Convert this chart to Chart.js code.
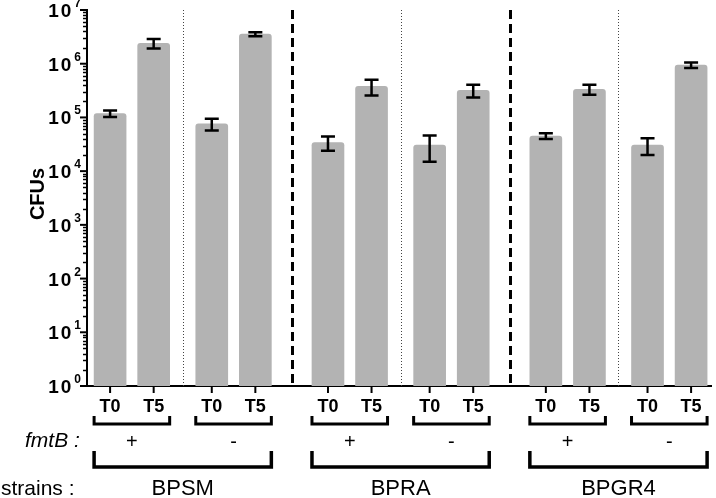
<!DOCTYPE html>
<html>
<head>
<meta charset="utf-8">
<script src="https://cdn.jsdelivr.net/npm/chart.js@4.4.0/dist/chart.umd.min.js"></script>
<style>
  html, body { margin: 0; padding: 0; background: #fff; }
  #wrap { width: 716px; height: 498px; }
</style>
</head>
<body>
<div id="wrap"><canvas id="c"></canvas></div>
<script>
// groups, outer to inner: strain > fmtB > time
const strains = ['BPSM', 'BPRA', 'BPGR4'];
const fmtB = ['+', '-'];
const times = ['T0', 'T5'];

// CFUs (mean and SD), in the same order as the bars
const cfuMean = [1.18e5, 2.4e6, 7.6e4, 3.55e6, 3.4e4, 3.8e5, 3.05e4, 3.2e5, 4.5e4, 3.35e5, 3.05e4, 9.4e5];
const cfuSd   = [0.16e5, 0.47e6, 1.9e4, 0.3e6, 1.0e4, 1.25e5, 1.55e4, 0.85e5, 0.55e4, 0.7e5, 1.05e4, 1.1e5];

// y axis decades: 10^0 .. 10^7
const yExponents = [0, 1, 2, 3, 4, 5, 6, 7];

const FONT = "'Liberation Sans', Arial, sans-serif";
const BAR_W = 32;

// bar positions on the x axis: pairs within a strain, wider gap between strains
const xPos = [];
strains.forEach((s, si) => fmtB.forEach((f, fi) => times.forEach((t, ti) => {
    xPos.push(si * 5 + fi * (7 / 3) + ti);
})));

const decor = {
    id: 'decor',
    beforeDatasetsDraw(chart) {
        const ctx = chart.ctx;
        const x = chart.scales.x, area = chart.chartArea;
        ctx.save();
        ctx.strokeStyle = '#000';
        // dashed lines between strains
        ctx.lineWidth = 3;
        ctx.setLineDash([9, 5]);
        for (let si = 1; si < strains.length; si++) {
            const px = Math.round(x.getPixelForValue(si * 5 - 5 / 6)) + 0.5;
            ctx.beginPath(); ctx.moveTo(px, area.top); ctx.lineTo(px, area.bottom); ctx.stroke();
        }
        // dotted lines between fmtB + / -
        ctx.lineWidth = 1;
        ctx.strokeStyle = '#444';
        ctx.setLineDash([1, 2]);
        for (let si = 0; si < strains.length; si++) {
            const px = Math.round(x.getPixelForValue(si * 5 + 5 / 3)) + 0.5;
            ctx.beginPath(); ctx.moveTo(px, area.top); ctx.lineTo(px, area.bottom); ctx.stroke();
        }
        ctx.restore();
    },
    afterDatasetsDraw(chart) {
        const ctx = chart.ctx;
        const x = chart.scales.x, y = chart.scales.y;
        ctx.save();
        ctx.strokeStyle = '#000';
        ctx.lineWidth = 2.5;
        cfuMean.forEach((m, i) => {
            const px = x.getPixelForValue(xPos[i]);
            const hi = y.getPixelForValue(m + cfuSd[i]);
            const lo = y.getPixelForValue(m - cfuSd[i]);
            ctx.beginPath();
            ctx.moveTo(px, hi); ctx.lineTo(px, lo);
            ctx.moveTo(px - 7, hi); ctx.lineTo(px + 7, hi);
            ctx.moveTo(px - 7, lo); ctx.lineTo(px + 7, lo);
            ctx.stroke();
        });
        ctx.restore();
    },
    afterDraw(chart) {
        const ctx = chart.ctx;
        const x = chart.scales.x, y = chart.scales.y, area = chart.chartArea;
        ctx.save();
        ctx.strokeStyle = '#000';
        ctx.fillStyle = '#000';

        // y ticks (major + minor) and 10^n labels
        yExponents.forEach(e => {
            const py = y.getPixelForValue(Math.pow(10, e));
            ctx.lineWidth = 2;
            ctx.beginPath(); ctx.moveTo(area.left - 7, py); ctx.lineTo(area.left, py); ctx.stroke();
            if (e < yExponents[yExponents.length - 1]) {
                ctx.lineWidth = 1.5;
                for (let k = 2; k <= 9; k++) {
                    const my = Math.round(y.getPixelForValue(k * Math.pow(10, e))) + 0.5;
                    ctx.beginPath(); ctx.moveTo(area.left - 4, my); ctx.lineTo(area.left, my); ctx.stroke();
                }
            }
            ctx.font = 'bold 12px ' + FONT;
            const expW = ctx.measureText(String(e)).width;
            ctx.textAlign = 'right';
            ctx.textBaseline = 'alphabetic';
            ctx.fillText(String(e), 81, py - 3);
            ctx.font = 'bold 19px ' + FONT;
            ctx.letterSpacing = '2px';
            ctx.fillText('10', 81 - expW - 1, py + 7);
            ctx.letterSpacing = '0px';
        });

        // y title
        ctx.save();
        ctx.translate(38, 194);
        ctx.rotate(-Math.PI / 2);
        ctx.font = 'bold 20px ' + FONT;
        ctx.textAlign = 'center';
        ctx.textBaseline = 'middle';
        ctx.fillText('CFUs', 0, 0);
        ctx.restore();

        // x ticks and time labels
        ctx.lineWidth = 2;
        ctx.textAlign = 'center';
        ctx.textBaseline = 'middle';
        ctx.font = 'bold 18px ' + FONT;
        xPos.forEach((v, i) => {
            const px = x.getPixelForValue(v);
            ctx.beginPath(); ctx.moveTo(px, area.bottom); ctx.lineTo(px, area.bottom + 7); ctx.stroke();
            ctx.fillText(times[i % times.length], px, 407);
        });

        // fmtB brackets
        ctx.lineWidth = 3;
        ctx.font = '20px ' + FONT;
        for (let g = 0; g < strains.length * fmtB.length; g++) {
            const a = x.getPixelForValue(xPos[g * 2]) - BAR_W / 2;
            const b = x.getPixelForValue(xPos[g * 2 + 1]) + BAR_W / 2;
            ctx.beginPath();
            ctx.moveTo(a, 416); ctx.lineTo(a, 424); ctx.lineTo(b, 424); ctx.lineTo(b, 416);
            ctx.stroke();
            ctx.fillText(fmtB[g % fmtB.length], (a + b) / 2, 442);
        }

        // strain brackets
        ctx.lineWidth = 3.5;
        ctx.font = '22px ' + FONT;
        strains.forEach((s, si) => {
            const a = x.getPixelForValue(xPos[si * 4]) - BAR_W / 2;
            const b = x.getPixelForValue(xPos[si * 4 + 3]) + BAR_W / 2;
            ctx.beginPath();
            ctx.moveTo(a, 451); ctx.lineTo(a, 467); ctx.lineTo(b, 467); ctx.lineTo(b, 451);
            ctx.stroke();
            ctx.fillText(s, (a + b) / 2, 489);
        });

        // row captions
        ctx.textAlign = 'left';
        ctx.font = 'italic 21px ' + FONT;
        ctx.fillText('fmtB :', 25, 441);
        ctx.font = '21px ' + FONT;
        ctx.fillText('strains :', 1, 489);
        ctx.restore();
    }
};

new Chart(document.getElementById('c'), {
    type: 'bar',
    data: {
        datasets: [{
            data: cfuMean.map((v, i) => ({ x: xPos[i], y: v })),
            backgroundColor: '#b3b3b3',
            borderWidth: 0,
            borderRadius: { topLeft: 3, topRight: 3 },
            borderSkipped: 'bottom',
            barThickness: BAR_W
        }]
    },
    options: {
        responsive: true,
        maintainAspectRatio: false,
        animation: false,
        layout: { padding: { top: 10, right: 5, left: 0, bottom: 0 } },
        plugins: { legend: { display: false }, tooltip: { enabled: false } },
        scales: {
            x: {
                type: 'linear',
                offset: false,
                min: -0.53,
                max: 13.79,
                grid: { display: false, offset: false },
                border: { display: true, color: '#000', width: 2 },
                ticks: { display: false },
                afterFit(scale) { scale.height = 112; }
            },
            y: {
                type: 'logarithmic',
                min: 1,
                max: 1e7,
                grid: { display: false },
                border: { display: true, color: '#000', width: 2 },
                ticks: { display: false },
                afterFit(scale) { scale.width = 87; }
            }
        }
    },
    plugins: [decor]
});
</script>
</body>
</html>
